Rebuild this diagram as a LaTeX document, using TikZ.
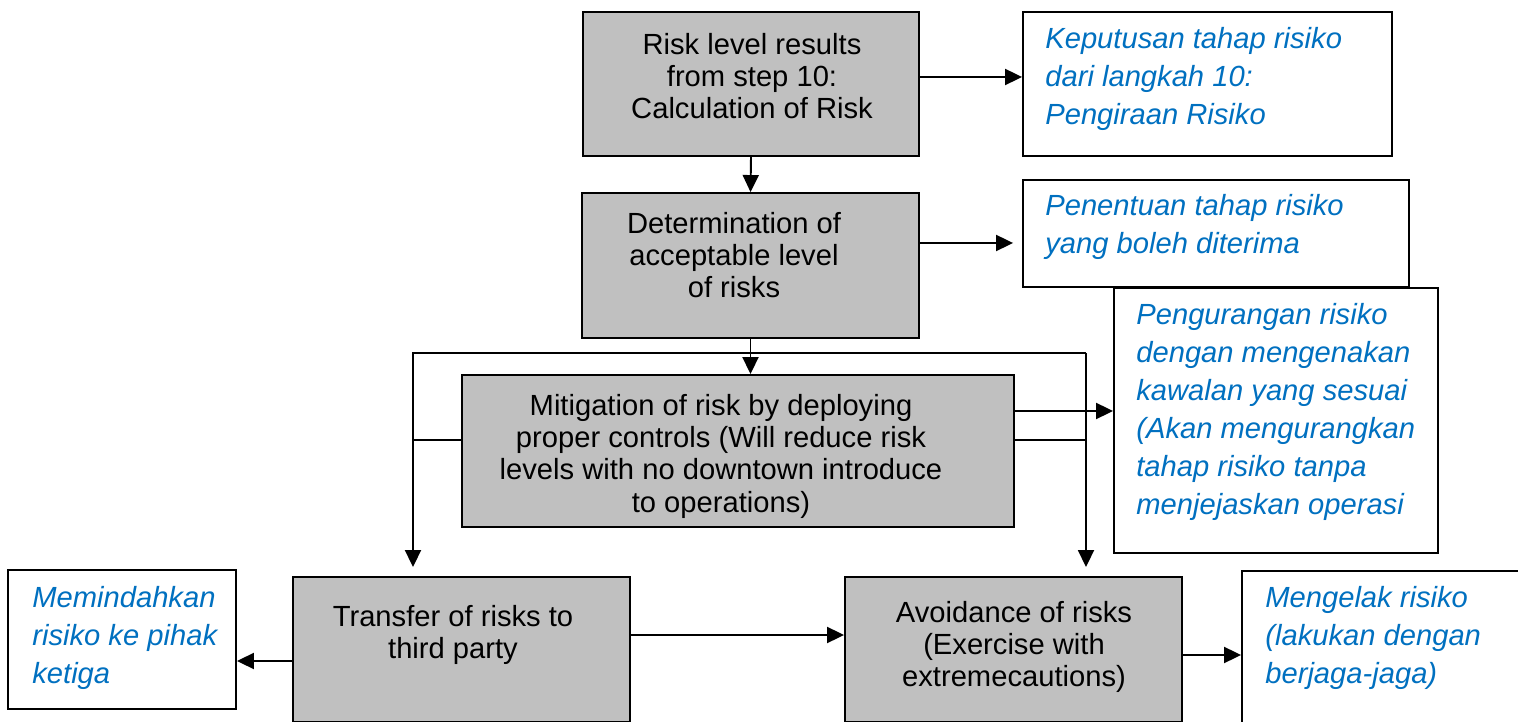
\documentclass[tikz,border=0pt]{standalone}
\usepackage{fontspec}
\setmainfont{Liberation Sans}
\usepackage{tikz}
\usetikzlibrary{calc,arrows.meta}
\definecolor{boxgrey}{RGB}{192,192,192}
\definecolor{malayblue}{RGB}{0,112,192}
\tikzset{
	greybox/.style={draw=black, fill=boxgrey, line width=1.1pt, inner sep=0pt},
	whitebox/.style={draw=black, fill=white, line width=1.1pt, inner sep=0pt},
	engtext/.style={align=center, inner sep=0pt, font=\fontsize{16.6}{18.4}\selectfont},
	maltext/.style={align=left, anchor=west, inner sep=0pt, text=malayblue, font=\fontsize{16.6}{21.6}\selectfont\itshape},
	arr/.style={line width=1.1pt, -{Triangle[length=0.34cm,width=0.32cm]}},
	link/.style={line width=1.1pt}
}

\begin{document}
\begin{tikzpicture}[x=0.02cm, y=-0.02cm]
			%%%%% START %%%%%
			\useasboundingbox (0,0) rectangle (1518,722);
			
			\node[greybox, minimum width=6.72cm, minimum height=2.88cm] (risk) at (751,84) {};
			\node[engtext] (risk-t) at (752,76) {Risk level results\\from step 10:\\Calculation of Risk};
			\node[whitebox, minimum width=7.38cm, minimum height=2.88cm] (riskms) at (1207.5,84) {};
			\node[maltext] (riskms-t) at (1045,79) {Keputusan tahap risiko\\dari langkah 10:\\Pengiraan Risiko};
			
			\node[greybox, minimum width=6.74cm, minimum height=2.9cm] (accept) at (750.5,265.5) {};
			\node[engtext] (accept-t) at (734,255) {Determination of\\acceptable level\\of risks};
			\node[whitebox, minimum width=7.72cm, minimum height=2.14cm] (acceptms) at (1216,233.5) {};
			\node[maltext] (acceptms-t) at (1045,227) {Penentuan tahap risiko\\yang boleh diterima};
			
			\node[greybox, minimum width=11.04cm, minimum height=3.04cm] (mitig) at (738,451) {};
			\node[engtext] (mitig-t) at (721,456) {Mitigation of risk by deploying\\proper controls (Will reduce risk\\levels with no downtown introduce\\to operations)};
			\node[whitebox, minimum width=6.48cm, minimum height=5.3cm] (mitigms) at (1276,420.5) {};
			\node[maltext] (mitigms-t) at (1136,412) {Pengurangan risiko\\dengan mengenakan\\kawalan yang sesuai\\(Akan mengurangkan\\tahap risiko tanpa\\menjejaskan operasi};
			
			\node[greybox, minimum width=6.74cm, minimum height=2.9cm] (transfer) at (461.5,649.5) {};
			\node[engtext] (transfer-t) at (453,635) {Transfer of risks to\\third party};
			\node[whitebox, minimum width=4.56cm, minimum height=2.78cm] (transferms) at (122,639.5) {};
			\node[maltext] (transferms-t) at (32,638) {Memindahkan\\risiko ke pihak\\ketiga};
			
			\node[greybox, minimum width=6.74cm, minimum height=2.9cm] (avoid) at (1013.5,649.5) {};
			\node[engtext] (avoid-t) at (1014,647) {Avoidance of risks\\(Exercise with\\extremecautions)};
			\node[whitebox, minimum width=6.6cm, minimum height=3.6cm] (avoidms) at (1407,661) {};
			\node[maltext] (avoidms-t) at (1265,638) {Mengelak risiko\\(lakukan dengan\\berjaga-jaga)};
			
			\draw[arr] ([yshift=0.14cm]risk.east) -- ([yshift=0.14cm]riskms.west);
			\draw[arr] (risk.south) -- (accept.north);
			\draw[arr] ([yshift=0.45cm]accept.east) -- ($(acceptms.west)+(-9,9.5)$);
			\draw[arr] (accept.south) -- (accept.south |- mitig.north);
			
			\coordinate (splitL) at (413,353);
			\coordinate (splitR) at (1086,353);
			\draw[arr, shorten >=0.18cm] (splitR) -- (splitL) -- (splitL |- transfer.north);
			\draw[arr, shorten >=0.18cm] (splitR) -- (splitR |- avoid.north);
			\draw[link] ($(mitig.west)+(0,-11)$) -- ++(-49,0);
			\draw[link] ($(mitig.east)+(0,-11)$) -- ++(72,0);
			\draw[arr] ($(mitig.east)+(0,-40)$) -- ($(mitigms.west)+(0,-9.5)$);
			
			\draw[arr] ($(transfer.west)+(0,11.5)$) -- ($(transferms.east)+(0,21.5)$);
			\draw[arr] ([yshift=0.29cm]transfer.east) -- ([yshift=0.29cm]avoid.west);
			\draw[arr] ($(avoid.east)+(0,5.5)$) -- ($(avoidms.west)+(0,-6)$);
			
			%%%%% END %%%%%
\end{tikzpicture}
\end{document}
